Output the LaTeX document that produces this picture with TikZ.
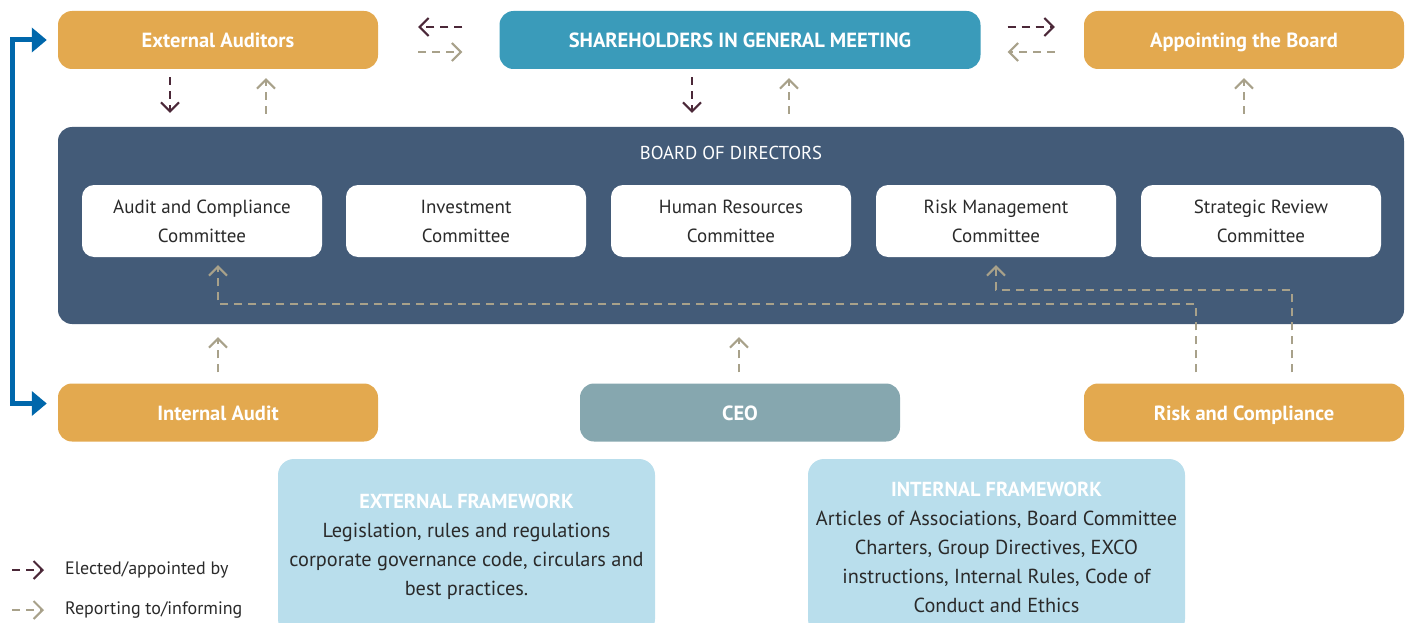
\documentclass[tikz,border=0pt]{standalone}
\usepackage{fontspec}
\setmainfont{PT Sans}
\usetikzlibrary{positioning, arrows.meta}
\definecolor{audorange}{HTML}{E3A94F}
\definecolor{meetteal}{HTML}{3A9BBA}
\definecolor{boardblue}{HTML}{435B78}
\definecolor{ceogrey}{HTML}{86A7AF}
\definecolor{frameblue}{HTML}{B9DEEC}
\definecolor{electplum}{HTML}{4B2838}
\definecolor{reportkhaki}{HTML}{A8A18A}
\definecolor{linkblue}{HTML}{0067AB}
\definecolor{inktext}{HTML}{2A2A2A}

\begin{document}
\begin{tikzpicture}[
        x=1pt, y=1pt,
        % Stili per i blocchi
        actor/.style={rectangle, fill=audorange, text=white, font=\fontsize{20.5}{24}\selectfont\bfseries, minimum width=320pt, minimum height=58pt, rounded corners=14pt, inner sep=0pt, text height=18pt, text depth=2pt},
        meeting/.style={actor, fill=meetteal, minimum width=481pt},
        ceobox/.style={actor, fill=ceogrey},
        board/.style={rectangle, fill=boardblue, minimum width=1346pt, minimum height=197pt, rounded corners=14pt},
        committee/.style={rectangle, fill=white, text=inktext, align=center, font=\fontsize{19}{29}\selectfont, minimum width=240pt, minimum height=72pt, rounded corners=12pt, inner sep=0pt},
        framework/.style={rectangle, fill=frameblue, text=inktext, align=center, font=\fontsize{20.3}{29}\selectfont, minimum width=377pt, minimum height=176pt, rounded corners=16pt, inner sep=0pt},
        legendtext/.style={text=inktext, font=\fontsize{18}{20}\selectfont, anchor=west, inner sep=0pt},
        % Stili per le frecce
        elect/.style={-{Straight Barb[length=9pt, width=18pt]}, line width=2pt, dash pattern=on 8pt off 6pt, draw=electplum},
        report/.style={elect, draw=reportkhaki},
        link/.style={{Triangle[length=15pt, width=24pt]}-{Triangle[length=15pt, width=24pt]}, line width=5pt, draw=linkblue}
    ]
    \useasboundingbox (0,0) rectangle (1406,-623);
    \clip (0,0) rectangle (1406,-623);

    % --- TOP ROW ---
    \node[actor] (EA) at (218,-40) {External Auditors};
    \node[meeting] (SH) at (740,-40) {SHAREHOLDERS IN GENERAL MEETING};
    \node[actor] (AB) at (1244,-40) {Appointing the Board};

    % --- BOARD ---
    \node[board] (Board) at (731,-225.5) {};
    \node[text=white, font=\fontsize{18.7}{22}\selectfont] (BT) at (731,-153) {BOARD OF DIRECTORS};
    \foreach \x/\txt [count=\i] in {202/{Audit and Compliance\\Committee}, 466/{Investment\\Committee}, 731/{Human Resources\\Committee}, 996/{Risk Management\\Committee}, 1261/{Strategic Review\\Committee}} {
        \node[committee] (C\i) at (\x,-221) {\txt};
    }

    % --- BOTTOM ROW ---
    \node[actor] (IA) at (218,-412.5) {Internal Audit};
    \node[ceobox] (CEO) at (740,-412.5) {CEO};
    \node[actor] (RC) at (1244,-412.5) {Risk and Compliance};

    % --- FRAMEWORKS ---
    \node[framework] (EF) at (466.5,-547) {\textcolor{white}{\textbf{EXTERNAL FRAMEWORK}}\\Legislation, rules and regulations\\corporate governance code, circulars and\\best practices.};
    \node[framework] (IF) at (996.5,-547) {\textcolor{white}{\textbf{INTERNAL FRAMEWORK}}\\Articles of Associations, Board Committee\\Charters, Group Directives, EXCO\\instructions, Internal Rules, Code of\\Conduct and Ethics};

    % --- ARROWS TOP ---
    \draw[elect, shorten <=37pt, shorten >=40pt] ([yshift=13]SH.west) -- ([yshift=13]EA.east);
    \draw[report, shorten <=40pt, shorten >=37pt] ([yshift=-12]EA.east) -- ([yshift=-12]SH.west);
    \draw[elect, shorten <=27pt, shorten >=29pt] ([yshift=13]SH.east) -- ([yshift=13]AB.west);
    \draw[report, shorten <=29pt, shorten >=27pt] ([yshift=-12]AB.west) -- ([yshift=-12]SH.east);

    \draw[elect, shorten <=8pt, shorten >=14pt] ([xshift=-48]EA.south) -- ([xshift=-48]EA.south |- Board.north);
    \draw[report, shorten <=13pt, shorten >=9pt] ([xshift=48]EA.south |- Board.north) -- ([xshift=48]EA.south);
    \draw[elect, shorten <=8pt, shorten >=14pt] ([xshift=-48]SH.south) -- ([xshift=-48]SH.south |- Board.north);
    \draw[report, shorten <=13pt, shorten >=9pt] ([xshift=49]SH.south |- Board.north) -- ([xshift=49]SH.south);
    \draw[report, shorten <=13pt, shorten >=9pt] (AB.south |- Board.north) -- (AB.south);

    % --- ARROWS BOTTOM ---
    \draw[report, shorten <=11pt, shorten >=13pt] (IA.north) -- (IA.north |- Board.south);
    \draw[report, shorten <=11pt, shorten >=13pt] ([xshift=-1]CEO.north) -- ([xshift=-1]CEO.north |- Board.south);
    \draw[report] ([xshift=-48, yshift=11]RC.north) -- ++(0,68) -| ([xshift=16, yshift=-8]C1.south);
    \draw[report] ([xshift=48, yshift=11]RC.north) -- ++(0,82) -| ([yshift=-8]C4.south);

    % --- AUDIT LINK ---
    \draw[link] ([xshift=-11]EA.west) -- ++(-34,0) |- ([xshift=-11, yshift=9]IA.west);

    % --- LEGEND ---
    \node[legendtext] (K1) at (65,-570) {Elected/appointed by};
    \node[legendtext] (K2) at (65,-610) {Reporting to/informing};
    \draw[elect] ([xshift=-53]K1.west) -- ([xshift=-21]K1.west);
    \draw[report] ([xshift=-53]K2.west) -- ([xshift=-21]K2.west);

\end{tikzpicture}
\end{document}
